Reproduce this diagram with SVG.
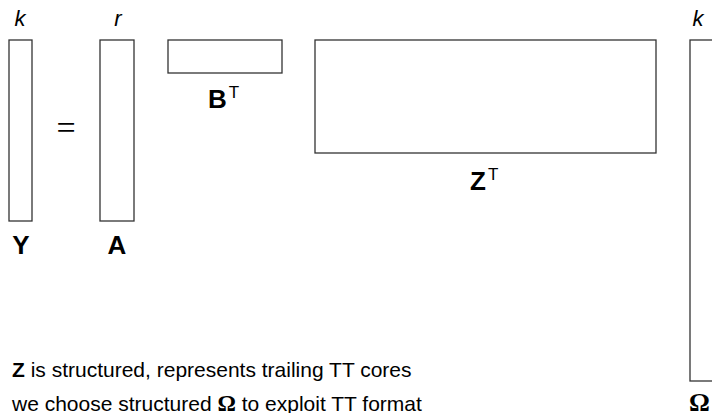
<svg xmlns="http://www.w3.org/2000/svg" width="712" height="413" viewBox="0 0 712 413">
  <style>
    .mat { fill: #ffffff; stroke: #333333; stroke-width: 1.3; }
    .dim { font-family: "Liberation Sans", Arial, sans-serif; font-style: italic; font-size: 22px; fill: #000; text-anchor: middle; }
    .lbl { font-family: "Liberation Sans", Arial, sans-serif; font-weight: bold; font-size: 26px; fill: #000; }
    .sup { font-family: "Liberation Sans", Arial, sans-serif; font-weight: normal; font-size: 17px; fill: #000; }
    .body { font-family: "Liberation Sans", Arial, sans-serif; font-size: 21px; fill: #000; }
    .greek { font-family: "Liberation Serif", "Times New Roman", serif; font-weight: bold; }
  </style>
  <rect width="712" height="413" fill="#ffffff"/>

  <!-- Y = A B^T Z^T Omega -->
  <g id="Y">
    <rect class="mat" x="9" y="40" width="23" height="181"/>
    <text class="dim" x="20" y="26">k</text>
    <text class="lbl" x="21" y="254" text-anchor="middle">Y</text>
  </g>

  <g id="equals">
    <text x="66" y="139" font-family="Liberation Serif, serif" font-size="34" text-anchor="middle" fill="#000">=</text>
  </g>

  <g id="A">
    <rect class="mat" x="100" y="40" width="34" height="181"/>
    <text class="dim" x="118" y="26">r</text>
    <text class="lbl" x="117" y="254" text-anchor="middle">A</text>
  </g>

  <g id="BT">
    <rect class="mat" x="168" y="40" width="114" height="33"/>
    <text class="lbl" x="208" y="108">B<tspan class="sup" dx="2" dy="-10">T</tspan></text>
  </g>

  <g id="ZT">
    <rect class="mat" x="315" y="40" width="341" height="113"/>
    <text class="lbl" x="470" y="190">Z<tspan class="sup" dx="2" dy="-10">T</tspan></text>
  </g>

  <g id="Omega">
    <rect class="mat" x="690" y="40" width="40" height="341"/>
    <text class="dim" x="698" y="26">k</text>
    <text class="lbl greek" x="689" y="411" font-size="27">Ω</text>
  </g>

  <g id="connectors"/>

  <g id="notes">
    <text class="body" x="12" y="377"><tspan font-weight="bold">Z</tspan> is structured, represents trailing TT cores</text>
    <text class="body" x="12" y="411">we choose structured <tspan class="greek" font-size="23">Ω</tspan> to exploit TT format</text>
  </g>
</svg>
